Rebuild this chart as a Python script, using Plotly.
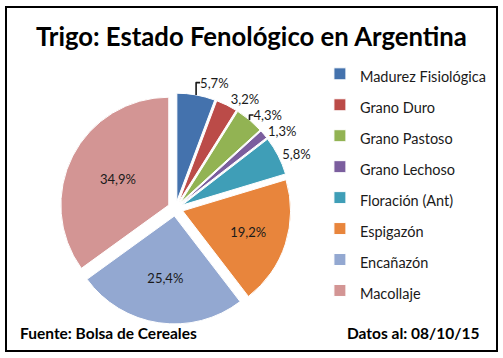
import plotly.graph_objects as go

categories = ["Madurez Fisiológica", "Grano Duro", "Grano Pastoso", "Grano Lechoso",
              "Floración (Ant)", "Espigazón", "Encañazón", "Macollaje"]
values = [5.7, 3.2, 4.3, 1.3, 5.8, 19.2, 25.4, 34.9]
colors = ["#4472AD", "#BB4B48", "#92B353", "#7B5E9E", "#3F9EB7", "#E8853C", "#93A8D1", "#D39594"]
label_text = [f"{v:.1f}".replace(".", ",") + "%" for v in values]
text_pos = ["outside" if v < 10 else "inside" for v in values]

font = "Lato, 'Open Sans', sans-serif"

fig = go.Figure(go.Pie(
    labels=[f"<span style='font-size:14.5px'>{c}</span>" for c in categories],
    values=values,
    text=label_text,
    textinfo="text",
    textposition=text_pos,
    insidetextorientation="horizontal",
    textfont=dict(family=font, size=13, color="#1a1a1a"),
    sort=False,
    direction="clockwise",
    rotation=0,
    pull=0.07,
    marker=dict(colors=colors, line=dict(color="white", width=1)),
    domain=dict(x=[0.0944, 0.6034], y=[0.095, 0.740]),
    hoverinfo="label+percent",
))

fig.update_layout(
    width=503, height=358,
    margin=dict(l=0, r=0, t=0, b=0, autoexpand=False),
    paper_bgcolor="white",
    font=dict(family=font, color="#1a1a1a"),
    showlegend=True,
    legend=dict(x=0.636, y=0.851, xanchor="left", yanchor="top",
                font=dict(size=21.5, family=font, color="#1a1a1a"),
                bgcolor="rgba(0,0,0,0)"),
    annotations=[
        dict(text="<b>Trigo: Estado Fenológico en Argentina</b>", x=0.5, y=1-36/358,
             xref="paper", yref="paper", xanchor="center", yanchor="middle", showarrow=False,
             font=dict(size=25.7, family=font, color="black")),
        dict(text="<b>Fuente: Bolsa de Cereales</b>", x=0.036, y=1-333/358,
             xref="paper", yref="paper", xanchor="left", yanchor="middle", showarrow=False,
             font=dict(size=15.5, family=font, color="black")),
        dict(text="<b>Datos al: 08/10/15</b>", x=0.956, y=1-333/358,
             xref="paper", yref="paper", xanchor="right", yanchor="middle", showarrow=False,
             font=dict(size=15.5, family=font, color="black")),
    ],
    shapes=[dict(type="rect", xref="paper", yref="paper",
                 x0=6/503, x1=497/503, y0=1-351/358, y1=1-7/358,
                 line=dict(color="black", width=2))],
)

fig.write_html("out.html", config={"displayModeBar": False},
               post_script="document.body.style.margin='0';")
